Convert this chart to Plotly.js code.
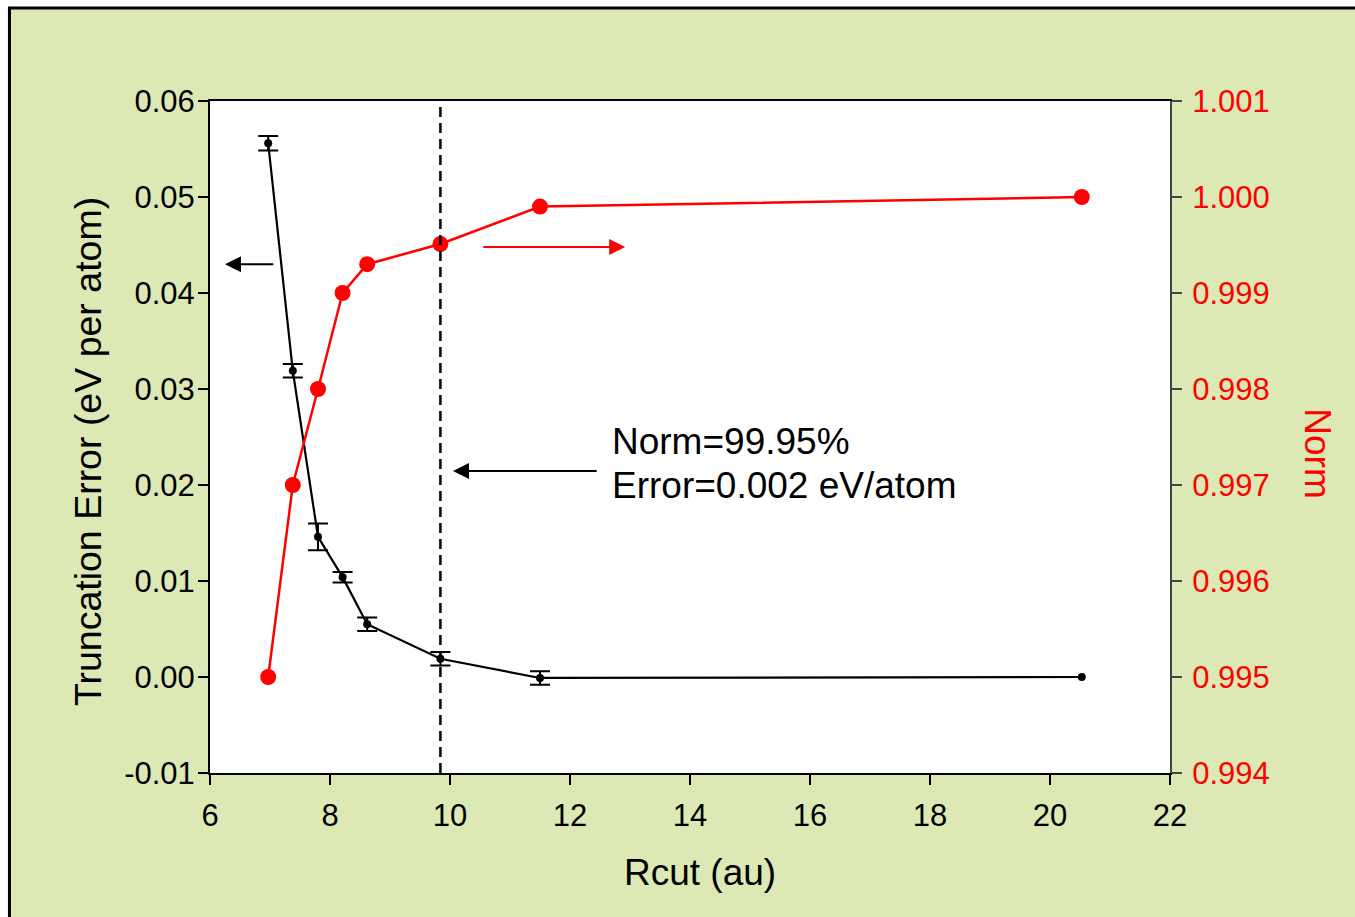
<!DOCTYPE html>
<html>
<head>
<meta charset="utf-8">
<script src="https://cdn.plot.ly/plotly-3.0.1.min.js"></script>
<style>html,body{margin:0;padding:0;background:#fff;}#chart{width:1355px;height:917px;}</style>
</head>
<body>
<div id="chart"></div>
<script>
// Data
const rcut = [6.97, 7.38, 7.80, 8.21, 8.62, 9.84, 11.50, 20.53];
const truncError = [0.0556, 0.0319, 0.0146, 0.0104, 0.0055, 0.0019, -0.0001, 0.0000];
const truncErrorBar = [0.00075, 0.0007, 0.0014, 0.00055, 0.0007, 0.0007, 0.0007, NaN];
const norm = [0.9950, 0.9970, 0.9980, 0.9990, 0.9993, 0.99951, 0.9999, 1.0000];
const cutoffR = 9.84;
const yTickVals = [-0.01, 0.00, 0.01, 0.02, 0.03, 0.04, 0.05, 0.06];
const yTickText = ["-0.01", "0.00", "0.01", "0.02", "0.03", "0.04", "0.05", "0.06"];
const noteLines = ["Norm=99.95%", "Error=0.002 eV/atom"];
const xTitle = "Rcut (au)";
const yTitle = "Truncation Error (eV per atom)";
const y2Title = "Norm";

const FONT = "Liberation Sans, Arial, Helvetica, sans-serif";
const TICK = 31;
const BIG = 37;

const traceErr = {
  x: rcut, y: truncError, type: "scatter", mode: "lines+markers",
  yaxis: "y",
  line: {color: "#000", width: 2.2},
  marker: {color: "#000", size: 8},
  error_y: {type: "data", array: truncErrorBar, visible: true, color: "#000", thickness: 2, width: 10},
  hoverinfo: "x+y", showlegend: false
};
const traceNorm = {
  x: rcut, y: norm, type: "scatter", mode: "lines+markers",
  yaxis: "y2",
  line: {color: "#ff0000", width: 2.5},
  marker: {color: "#ff0000", size: 16},
  hoverinfo: "x+y", showlegend: false
};

const layout = {
  width: 1355, height: 917,
  margin: {l: 210, r: 185, t: 101, b: 144, pad: 0},
  paper_bgcolor: "#ffffff",
  plot_bgcolor: "rgba(0,0,0,0)",
  font: {family: FONT, color: "#000", size: TICK},
  showlegend: false,
  xaxis: {
    range: [6, 22], dtick: 2, tick0: 6, autorange: false,
    ticks: "outside", ticklen: 10, tickwidth: 2, tickcolor: "#000",
    ticklabelstandoff: 4,
    showline: true, linecolor: "#000", linewidth: 2, mirror: true,
    showgrid: false, zeroline: false,
    tickfont: {family: FONT, size: TICK, color: "#000"}
  },
  yaxis: {
    range: [-0.01, 0.06], autorange: false,
    tickmode: "array", tickvals: yTickVals, ticktext: yTickText,
    ticks: "outside", ticklen: 10, tickwidth: 2, tickcolor: "#000",
    ticklabelstandoff: -3,
    showline: true, linecolor: "#000", linewidth: 2,
    showgrid: false, zeroline: false,
    tickfont: {family: FONT, size: TICK, color: "#000"}
  },
  yaxis2: {
    overlaying: "y", side: "right",
    range: [0.994, 1.001], dtick: 0.001, tick0: 0.994, autorange: false,
    tickformat: ".3f",
    ticks: "outside", ticklen: 10, tickwidth: 2, tickcolor: "#444",
    ticklabelstandoff: 4,
    showline: true, linecolor: "#444", linewidth: 2,
    showgrid: false, zeroline: false,
    tickfont: {family: FONT, size: TICK, color: "#ff0000"}
  },
  shapes: [
    {type: "rect", xref: "paper", yref: "paper", x0: -0.2089, x1: 1.3, y0: -0.3, y1: 1.1384,
     fillcolor: "#dde9b4", line: {color: "#000", width: 3}, layer: "below"},
    {type: "rect", xref: "paper", yref: "paper", x0: 0, x1: 1, y0: 0, y1: 1,
     fillcolor: "#ffffff", line: {width: 0}, layer: "below"},
    {type: "line", xref: "x", yref: "paper", x0: cutoffR, x1: cutoffR, y0: 0, y1: 1,
     line: {color: "#000", width: 2.5, dash: "10px,6px"}}
  ],
  annotations: [
    // arrows
    {x: 6.25, y: 0.0430, ax: 7.08, ay: 0.0430, xref: "x", yref: "y", axref: "x", ayref: "y",
     text: "", showarrow: true, arrowhead: 2, arrowsize: 1.6, arrowwidth: 2, arrowcolor: "#000"},
    {x: 12.92, y: 0.0448, ax: 10.53, ay: 0.0448, xref: "x", yref: "y", axref: "x", ayref: "y",
     text: "", showarrow: true, arrowhead: 2, arrowsize: 1.6, arrowwidth: 2, arrowcolor: "#ff0000"},
    {x: 10.05, y: 0.02146, ax: 12.47, ay: 0.02146, xref: "x", yref: "y", axref: "x", ayref: "y",
     text: "", showarrow: true, arrowhead: 2, arrowsize: 1.6, arrowwidth: 2, arrowcolor: "#000"},
    // note text
    {x: 12.67, y: 0.02458, xref: "x", yref: "y", xanchor: "left", yanchor: "middle",
     text: noteLines[0], showarrow: false, font: {family: FONT, size: BIG, color: "#000"}},
    {x: 12.67, y: 0.0200, xref: "x", yref: "y", xanchor: "left", yanchor: "middle",
     text: noteLines[1], showarrow: false, font: {family: FONT, size: BIG, color: "#000"}},
    // axis titles
    {x: 0.5104, y: -0.1488, xref: "paper", yref: "paper", xanchor: "center", yanchor: "middle",
     text: xTitle, showarrow: false, font: {family: FONT, size: BIG, color: "#000"}},
    {x: -0.127, y: 0.4777, xref: "paper", yref: "paper", xanchor: "center", yanchor: "middle",
     text: yTitle, textangle: -90, showarrow: false, font: {family: FONT, size: 37.5, color: "#000"}},
    {x: 1.154, y: 0.476, xref: "paper", yref: "paper", xanchor: "center", yanchor: "middle",
     text: y2Title, textangle: 90, showarrow: false, font: {family: FONT, size: BIG, color: "#ff0000"}}
  ]
};

Plotly.newPlot("chart", [traceErr, traceNorm], layout, {displayModeBar: false, staticPlot: true});
</script>
</body>
</html>
